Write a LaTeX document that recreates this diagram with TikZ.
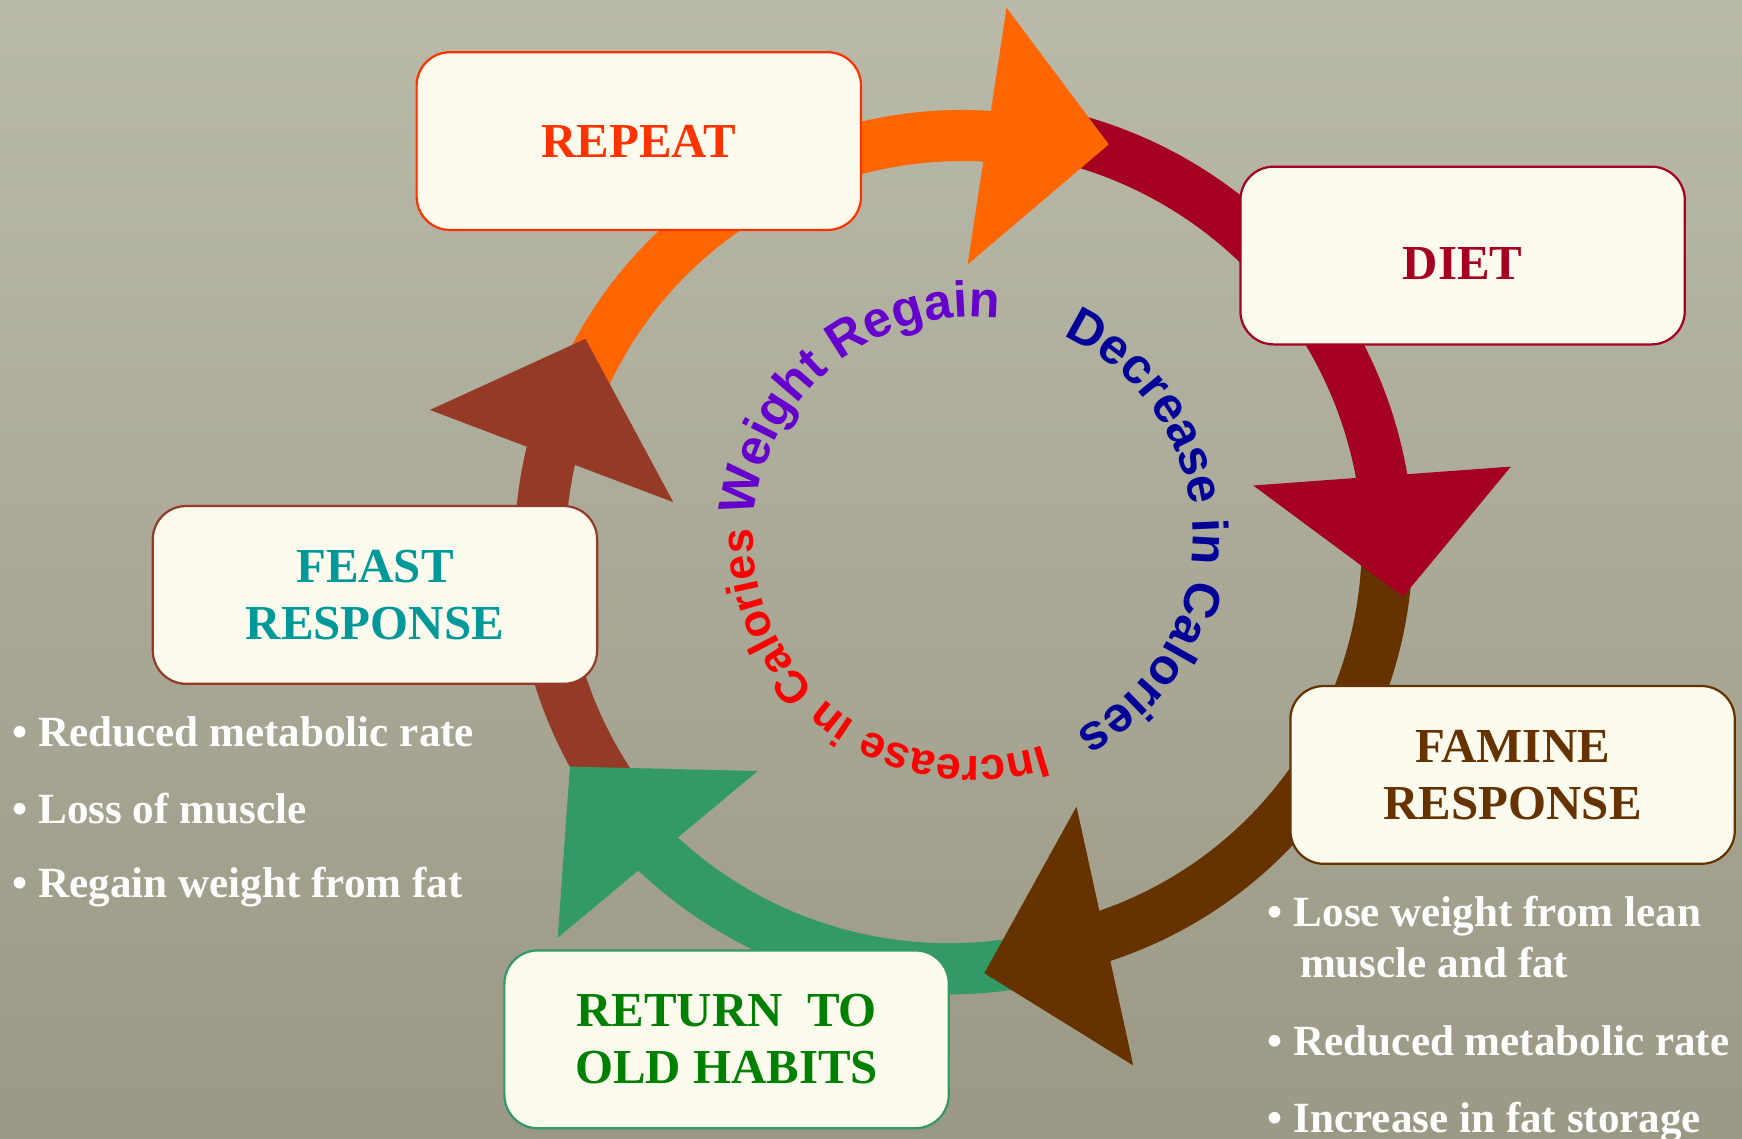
\documentclass[tikz,border=0pt]{standalone}
\usepackage{fontspec}
\setmainfont{Liberation Serif}
\newfontfamily\ringsans{Liberation Sans}
\usetikzlibrary{decorations.text}

\definecolor{bgtop}{RGB}{186,186,170}
\definecolor{bgbot}{RGB}{155,153,133}
\definecolor{cream}{RGB}{253,251,237}
\definecolor{repeatred}{RGB}{255,51,0}
\definecolor{orangearr}{RGB}{255,102,0}
\definecolor{dietred}{RGB}{165,0,33}
\definecolor{faminebrown}{RGB}{102,51,0}
\definecolor{returngreen}{RGB}{51,153,102}
\definecolor{habitgreen}{RGB}{0,128,0}
\definecolor{feastbrown}{RGB}{149,58,39}
\definecolor{feastteal}{RGB}{0,153,153}
\definecolor{regainpurple}{RGB}{102,0,204}
\definecolor{decreaseblue}{RGB}{0,0,153}
\definecolor{increasered}{RGB}{255,0,0}

\newcommand\boxfont{\bfseries\fontsize{44}{51.5}\selectfont}
\newcommand\bulletfont{\bfseries\fontsize{38.8}{44}\selectfont}
\newcommand\regainfont{\ringsans\bfseries\fontsize{45.5}{46}\selectfont\color{regainpurple}}
\newcommand\decreasefont{\ringsans\bfseries\fontsize{45}{46}\selectfont\color{decreaseblue}}
\newcommand\increasefont{\ringsans\bfseries\fontsize{40.5}{41}\selectfont\color{increasered}}

\begin{document}
\begin{tikzpicture}[x=1pt, y=1pt,
  shaft/.style={line width=46pt},
  stage/.style={draw=#1, line width=2pt, fill=cream, rounded corners=30pt,
    minimum width=400pt, minimum height=160pt, inner sep=0pt, align=center, font=\boxfont},
  note/.style={anchor=base west, inner sep=0pt, text=white, font=\bulletfont}]

% canvas
\clip (0,0) rectangle (1568,-1025);
\shade[top color=bgtop, bottom color=bgbot] (0,0) rectangle (1568,-1025);

\coordinate (ringc) at (866,-496);
\coordinate (faminec) at (875.7,-488.8);
\coordinate (greenc) at (854,-489);
\coordinate (textc) at (876,-483);

% curved arrow shafts
\draw[shaft, orangearr] ([shift={(155:374)}]ringc) arc[start angle=155, end angle=84, radius=374];
\draw[shaft, dietred] ([shift={(75:383.6)}]ringc) arc[start angle=75, end angle=8, radius=383.6];
\draw[shaft, faminebrown] ([shift={(0:373)}]faminec) arc[start angle=0, end angle=-74, radius=373];
\draw[shaft, returngreen] ([shift={(-80:383)}]greenc) arc[start angle=-80, end angle=-136, radius=383];
\draw[shaft, feastbrown] ([shift={(215:380)}]ringc) arc[start angle=215, end angle=164, radius=380];

% arrow heads
\fill[orangearr] (906,-7) -- (998,-130) -- (871,-238) -- cycle;
\fill[dietred] (1128,-437) -- (1360,-420) -- (1263,-537) -- cycle;
\fill[faminebrown] (969,-726) -- (1020,-959) -- (886,-876) -- cycle;
\fill[returngreen] (513,-690) -- (682,-694) -- (502,-844) -- cycle;
\fill[feastbrown] (387,-369) -- (527,-305) -- (606,-452) -- cycle;

% words around the inner circle
\path[decorate, decoration={text along path, text align=left,
  text={|\regainfont|Weight Regain}}]
  ([shift={(174.7:198)}]textc) arc[start angle=174.7, end angle=60, radius=198];
\path[decorate, decoration={text along path, text align=left,
  text={|\decreasefont|Decrease in Calories}}]
  ([shift={(65.9:198)}]textc) arc[start angle=65.9, end angle=-90, radius=198];
\path[decorate, decoration={text along path, text align=left,
  text={|\increasefont|Increase in Calories}}]
  ([shift={(-71.4:198)}]textc) arc[start angle=-71.4, end angle=-200, radius=198];

% stage boxes
\node[stage=repeatred, text=repeatred] (repeat) at (575,-127) {REPEAT};
\node[stage=dietred, text=dietred, text height=43pt, text depth=0pt] (diet) at (1316.5,-230) {DIET};
\node[stage=feastbrown, text=feastteal] (feast) at (337.5,-535.5) {FEAST\\RESPONSE};
\node[stage=faminebrown, text=faminebrown] (famine) at (1361.5,-697.5) {FAMINE\\RESPONSE};
\node[stage=returngreen, text=habitgreen] (return) at (654,-935.5) {RETURN\ \ TO\\OLD HABITS};

% notes
\node[note] (feastA) at (11,-672) {\textbullet\ Reduced metabolic rate};
\node[note] (feastB) at (11,-741) {\textbullet\ Loss of muscle};
\node[note] (feastC) at (11,-808) {\textbullet\ Regain weight from fat};

\node[note] (famineA) at (1141,-834) {\textbullet\ Lose weight from lean};
\node[note] (famineA2) at (1170,-880) {muscle and fat};
\node[note] (famineB) at (1141,-950) {\textbullet\ Reduced metabolic rate};
\node[note] (famineC) at (1141,-1019) {\textbullet\ Increase in fat storage};
\end{tikzpicture}
\end{document}
